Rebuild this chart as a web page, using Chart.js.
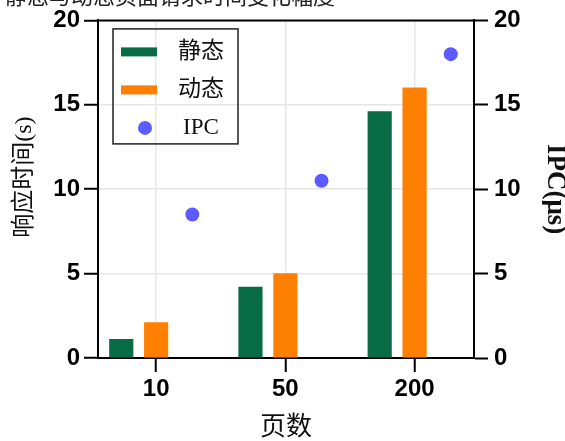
<!DOCTYPE html>
<html>
<head>
<meta charset="utf-8">
<script src="https://cdn.jsdelivr.net/npm/chart.js@4"></script>
<style>
  html, body { margin: 0; padding: 0; background: #fff; overflow: hidden; }
  canvas { display: block; }
</style>
</head>
<body>
<canvas id="pagesChart" width="565" height="441"></canvas>
<script>
// data
const pages = ["10", "50", "200"];
const staticTime = [1.1, 4.2, 14.6];
const dynamicTime = [2.1, 5.0, 16.0];
const ipc = [8.5, 10.5, 18.0];
const yTicks = [0, 5, 10, 15, 20];

const topTitle = "静态与动态页面请求时间变化幅度";

const serif = "'Liberation Serif', 'Noto Sans CJK SC', serif";
const sans = "'Liberation Sans', Arial, sans-serif";

// bars sit left of / on the category, IPC dot right of it
const toPoints = (vals, shift) => vals.map((v, i) => ({x: i + shift, y: v}));

// draws the cut-off caption, the top frame line and the inset legend
const extras = {
  id: "extras",
  afterDraw(chart) {
    const ctx = chart.ctx;
    const a = chart.chartArea;
    ctx.save();
    ctx.fillStyle = "#222";
    ctx.font = "22px " + serif;
    ctx.textBaseline = "alphabetic";
    ctx.fillText(topTitle, 5, 4);

    ctx.strokeStyle = "#000";
    ctx.lineWidth = 2;
    ctx.beginPath();
    ctx.moveTo(a.left - 1, a.top);
    ctx.lineTo(a.right + 1, a.top);
    ctx.stroke();

    // legend box
    const bx = a.left + 15, by = a.top + 8.5, bw = 125, bh = 115;
    ctx.lineWidth = 1.5;
    ctx.strokeStyle = "#222";
    ctx.strokeRect(bx, by, bw, bh);
    ctx.font = "23px " + serif;
    ctx.textAlign = "center";
    ctx.textBaseline = "middle";
    chart.data.datasets.forEach((ds, k) => {
      const cy = by + 23 + k * 38;
      if (ds.type === "scatter") {
        ctx.fillStyle = ds.backgroundColor;
        ctx.beginPath();
        ctx.arc(bx + 32, cy, 7, 0, Math.PI * 2);
        ctx.fill();
      } else {
        ctx.fillStyle = ds.backgroundColor;
        ctx.fillRect(bx + 8, cy - 4.5, 36, 9);
      }
      ctx.fillStyle = "#111";
      ctx.fillText(ds.label, bx + 88, cy);
    });
    ctx.restore();
  }
};

new Chart(document.getElementById("pagesChart"), {
  type: "bar",
  data: {
    datasets: [
      {
        label: "静态",
        data: toPoints(staticTime, -0.27),
        backgroundColor: "#076b45",
        barThickness: 23.5,
        grouped: false,
        yAxisID: "y",
        order: 2
      },
      {
        label: "动态",
        data: toPoints(dynamicTime, 0),
        backgroundColor: "#ff8000",
        barThickness: 23.5,
        grouped: false,
        yAxisID: "y",
        order: 2
      },
      {
        type: "scatter",
        label: "IPC",
        data: toPoints(ipc, 0.28),
        backgroundColor: "#5b5bff",
        borderWidth: 0,
        pointRadius: 7,
        yAxisID: "y2",
        order: 1
      }
    ]
  },
  plugins: [extras],
  options: {
    responsive: false,
    animation: false,
    layout: {padding: {top: 19, right: 0, bottom: 0, left: 0}},
    plugins: {legend: {display: false}, tooltip: {enabled: false}},
    scales: {
      x: {
        type: "linear",
        offset: false,
        min: -0.45,
        max: 2.46,
        afterBuildTicks: s => { s.ticks = pages.map((p, i) => ({value: i})); },
        afterFit: s => { s.height = 83; },
        ticks: {
          callback: v => pages[v],
          font: {family: sans, size: 24, weight: "bold"},
          color: "#000",
          padding: 3
        },
        grid: {offset: false, color: "#e6e6e6", lineWidth: 1.5, tickLength: 14, tickColor: "#000", tickWidth: 2},
        border: {color: "#000", width: 2},
        title: {
          display: true,
          text: "页数",
          font: {family: serif, size: 26, lineHeight: 1},
          color: "#111",
          padding: {top: 0, bottom: 0}
        }
      },
      y: {
        position: "left",
        min: 0,
        max: 20,
        afterBuildTicks: s => { s.ticks = yTicks.map(v => ({value: v})); },
        afterFit: s => { s.width = 98; },
        ticks: {font: {family: sans, size: 24, weight: "bold"}, color: "#000", padding: 4},
        grid: {color: "#e6e6e6", lineWidth: 1.5, tickLength: 14, tickColor: "#000", tickWidth: 2},
        border: {color: "#000", width: 2},
        title: {
          display: true,
          text: "\u3000响应时间(s)",
          font: {family: serif, size: 24, lineHeight: 1},
          color: "#111",
          padding: {top: 13, bottom: 0}
        }
      },
      y2: {
        position: "right",
        min: 0,
        max: 20,
        afterBuildTicks: s => { s.ticks = yTicks.map(v => ({value: v})); },
        afterFit: s => { s.width = 91; },
        ticks: {font: {family: sans, size: 24, weight: "bold"}, color: "#000", padding: 6},
        grid: {drawOnChartArea: false, tickLength: 14, tickColor: "#000", tickWidth: 2},
        border: {color: "#000", width: 2},
        title: {
          display: true,
          text: "IPC(μs)",
          font: {family: serif, size: 27, weight: "bold", lineHeight: 0.74},
          color: "#111",
          padding: {top: 0, bottom: 0}
        }
      }
    }
  }
});
</script>
</body>
</html>
